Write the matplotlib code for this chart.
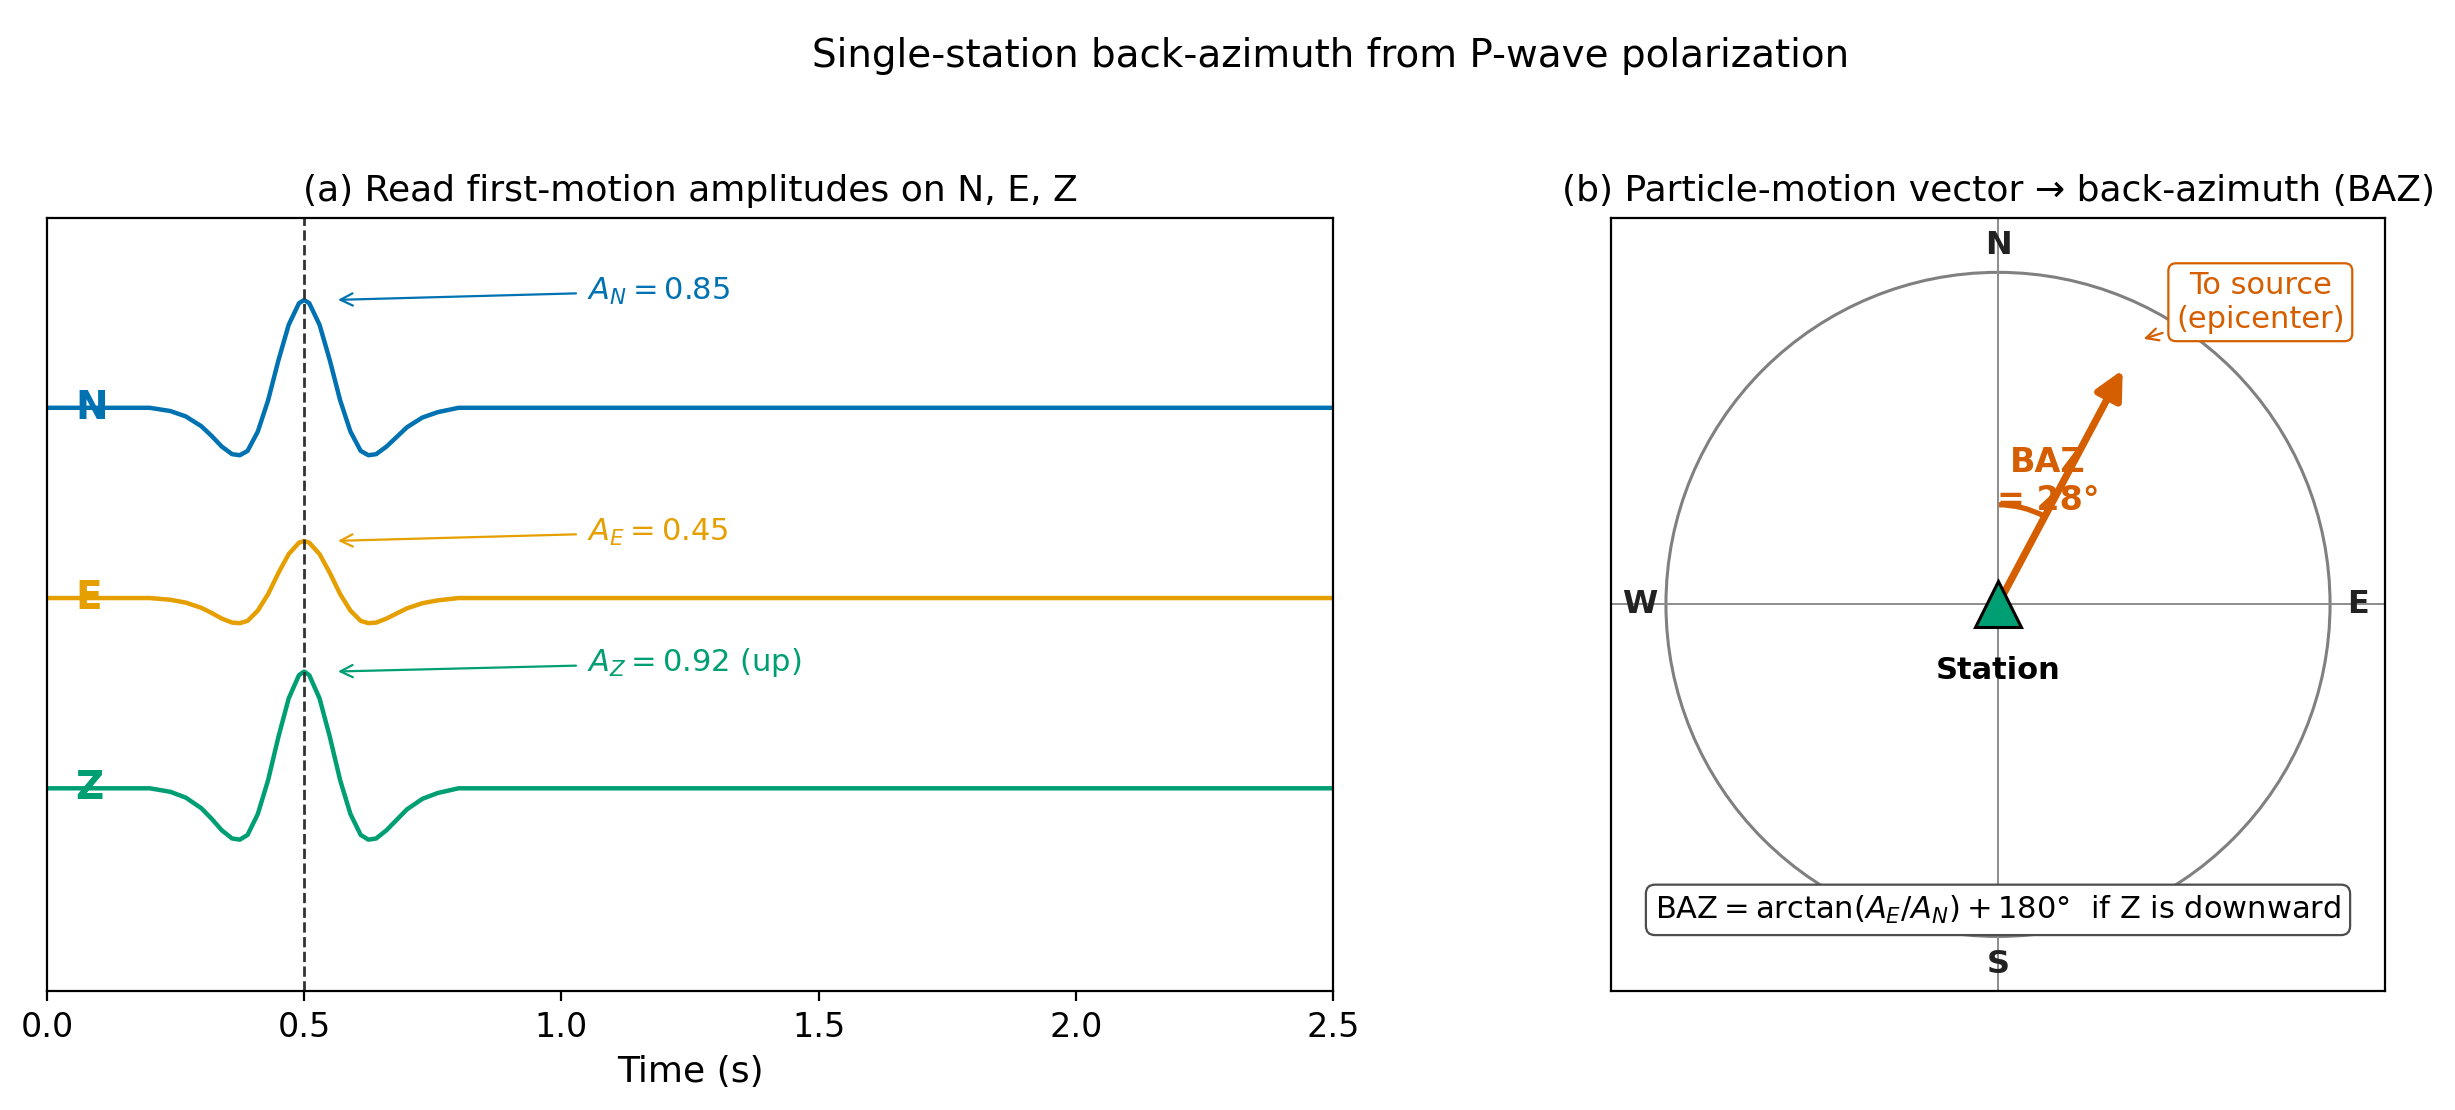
import numpy as np
import matplotlib
matplotlib.use("Agg")
import matplotlib.pyplot as plt
from matplotlib.patches import Circle, Arc

# --- data ---
components = ["N", "E", "Z"]
amplitudes = [0.85, 0.45, 0.92]
offsets = [3.0, 1.5, 0.0]
colors = ["#0072B2", "#E69F00", "#009E73"]
amp_labels = [r"$A_N = 0.85$", r"$A_E = 0.45$", r"$A_Z = 0.92$ (up)"]

# normalised first-motion wavelet shape (peak = 1 at t = 0.5 s)
t_shape = [0.00, 0.20, 0.24, 0.27, 0.30, 0.32, 0.34, 0.36, 0.375, 0.39, 0.41,
           0.43, 0.45, 0.47, 0.49, 0.50, 0.51, 0.53, 0.55, 0.57, 0.59, 0.61,
           0.625, 0.64, 0.66, 0.68, 0.70, 0.73, 0.76, 0.80, 2.50]
shape = [0.00, 0.00, -0.03, -0.08, -0.17, -0.26, -0.36, -0.43, -0.44, -0.40, -0.22,
         0.07, 0.44, 0.77, 0.97, 1.00, 0.97, 0.77, 0.44, 0.07, -0.22, -0.40,
         -0.44, -0.43, -0.36, -0.27, -0.18, -0.09, -0.04, 0.00, 0.00]

t_pick = 0.5
baz_deg = 28
xticks = [0.0, 0.5, 1.0, 1.5, 2.0, 2.5]
baz_color = "#D55E00"

fig = plt.figure(figsize=(2455 / 200, 1110 / 200), dpi=200)
ax1 = fig.add_axes([0.0191, 0.107, 0.5239, 0.697])
ax2 = fig.add_axes([0.6562, 0.107, 0.3153, 0.697])

# (a) traces
t_arr = np.array(t_shape)
s_arr = np.array(shape)
for comp, amp, off, col, lab in zip(components, amplitudes, offsets, colors, amp_labels):
    ax1.plot(t_arr, off + amp * s_arr, color=col, lw=1.6, zorder=2)
    ax1.text(0.055, off, comp, color=col, fontsize=14, fontweight="bold",
             ha="left", va="center", zorder=1.5)
    ax1.annotate(lab, xy=(0.555, off + amp), xytext=(1.05, off + amp + 0.07),
                 color=col, fontsize=11, ha="left", va="center",
                 arrowprops=dict(arrowstyle="->", color=col, lw=0.8))

ax1.axvline(t_pick, color="#333333", ls="--", lw=1.0)
ax1.set_xlim(0, 2.5)
ax1.set_ylim(-1.6, 4.5)
ax1.set_yticks([])
ax1.set_xticks(xticks)
ax1.tick_params(axis="x", labelsize=12)
ax1.set_xlabel("Time (s)", fontsize=13)
ax1.set_title("(a) Read first-motion amplitudes on N, E, Z", fontsize=13)

# (b) compass
lim = 1.165
ax2.set_xlim(-lim, lim)
ax2.set_ylim(-lim, lim)
ax2.set_aspect("equal")
ax2.set_xticks([])
ax2.set_yticks([])
ax2.axhline(0, color="0.55", lw=0.7)
ax2.axvline(0, color="0.55", lw=0.7)
ax2.add_patch(Circle((0, 0), 1.0, fill=False, ec="0.5", lw=1.1))

for lab, (x, y) in zip(["N", "S", "W", "E"], [(0, 1.08), (0, -1.085), (-1.08, 0), (1.085, 0)]):
    ax2.text(x, y, lab, fontsize=11.5, fontweight="bold", color="#222222",
             ha="center", va="center")

b = np.deg2rad(baz_deg)
L = 0.8
ax2.annotate("", xy=(L * np.sin(b), L * np.cos(b)), xytext=(0, 0),
             arrowprops=dict(arrowstyle="-|>", color=baz_color, lw=2.6,
                             mutation_scale=21, shrinkA=0, shrinkB=0))
ax2.add_patch(Arc((0, 0), 0.6, 0.6, theta1=90 - baz_deg, theta2=90,
                  color=baz_color, lw=1.9))
ax2.text(0.15, 0.37, "BAZ\n= %d°" % baz_deg, color=baz_color, fontsize=12,
         fontweight="bold", ha="center", va="center", multialignment="center")

ax2.plot(0, 0, marker="^", ms=16.5, color=colors[2], mec="black", mew=1.1,
         zorder=5, ls="none")
ax2.text(0, -0.2, "Station", fontsize=11, fontweight="bold", ha="center", va="center")

ax2.annotate("To source\n(epicenter)", xy=(0.9 * np.sin(b), 0.9 * np.cos(b)),
             xytext=(0.79, 0.91), color=baz_color, fontsize=11,
             ha="center", va="center",
             bbox=dict(boxstyle="round,pad=0.25", fc="white", ec=baz_color, lw=0.8),
             arrowprops=dict(arrowstyle="->", color=baz_color, lw=0.8))

ax2.text(0, -0.92, r"$\mathrm{BAZ} = \arctan(A_E/A_N) + 180°$  if Z is downward",
         fontsize=11, ha="center", va="center",
         bbox=dict(boxstyle="round,pad=0.3", fc="white", ec="0.3", lw=0.8))
ax2.set_title("(b) Particle-motion vector → back-azimuth (BAZ)", fontsize=13)

fig.suptitle("Single-station back-azimuth from P-wave polarization", fontsize=14,
             x=0.542, y=0.967)

fig.savefig("out.png", dpi=200)
